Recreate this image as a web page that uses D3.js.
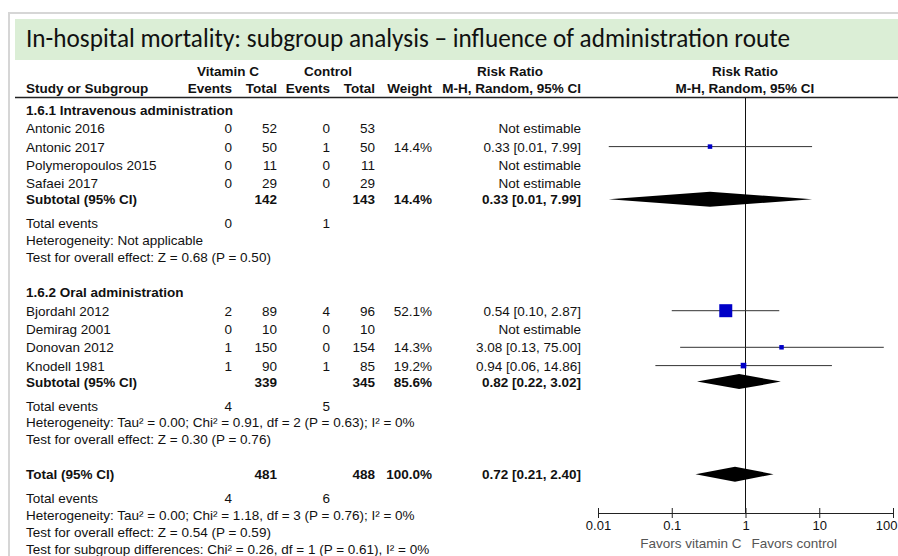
<!DOCTYPE html>
<html>
<head>
<meta charset="utf-8">
<script src="https://cdn.jsdelivr.net/npm/d3@7"></script>
<style>
  body { margin: 0; background: #fff; }
  svg { display: block; font-family: "Liberation Sans", Arial, sans-serif; }
</style>
</head>
<body>
<script>
var title = "In-hospital mortality: subgroup analysis \u2013 influence of administration route";

// studies
var studyNames = ["Antonic 2016", "Antonic 2017", "Polymeropoulos 2015", "Safaei 2017",
                  "Bjordahl 2012", "Demirag 2001", "Donovan 2012", "Knodell 1981"];
var studyGroup = [0, 0, 0, 0, 1, 1, 1, 1];
var vitEvents = [0, 0, 0, 0, 2, 0, 1, 1];
var vitTotal = [52, 50, 11, 29, 89, 10, 150, 90];
var ctlEvents = [0, 1, 0, 0, 4, 0, 0, 1];
var ctlTotal = [53, 50, 11, 29, 96, 10, 154, 85];
var weights = [null, 14.4, null, null, 52.1, null, 14.3, 19.2];
var rr = [null, 0.33, null, null, 0.54, null, 3.08, 0.94];
var rrLow = [null, 0.014, null, null, 0.10, null, 0.13, 0.06];
var rrHigh = [null, 7.99, null, null, 2.87, null, 75.00, 14.86];

// subgroups
var groupLabels = ["1.6.1 Intravenous administration", "1.6.2 Oral administration"];
var subVitTotal = [142, 339];
var subCtlTotal = [143, 345];
var subVitEvents = [0, 4];
var subCtlEvents = [1, 5];
var subWeight = [14.4, 85.6];
var subRR = [0.33, 0.82];
var subLow = [0.014, 0.22];
var subHigh = [7.99, 3.02];
var subHet = ["Heterogeneity: Not applicable",
              "Heterogeneity: Tau\u00b2 = 0.00; Chi\u00b2 = 0.91, df = 2 (P = 0.63); I\u00b2 = 0%"];
var subEffect = ["Test for overall effect: Z = 0.68 (P = 0.50)",
                 "Test for overall effect: Z = 0.30 (P = 0.76)"];

// overall
var totVitTotal = 481, totCtlTotal = 488, totWeight = 100.0;
var totRR = 0.72, totLow = 0.21, totHigh = 2.40;
var totVitEvents = 4, totCtlEvents = 6;
var totNotes = ["Heterogeneity: Tau\u00b2 = 0.00; Chi\u00b2 = 1.18, df = 3 (P = 0.76); I\u00b2 = 0%",
                "Test for overall effect: Z = 0.54 (P = 0.59)",
                "Test for subgroup differences: Chi\u00b2 = 0.26, df = 1 (P = 0.61), I\u00b2 = 0%"];

var axisTicks = [0.01, 0.1, 1, 10, 100];
var favorsLeft = "Favors vitamin C", favorsRight = "Favors control";

var width = 898, height = 556;
var svg = d3.select("body").append("svg").attr("width", width).attr("height", height);

// frame + title band
svg.append("rect").attr("x", 9).attr("y", 13).attr("width", width).attr("height", height)
  .attr("fill", "#fff").attr("stroke", "#d6d6d6").attr("stroke-width", 2);
svg.append("rect").attr("x", 15).attr("y", 19).attr("width", width - 15).attr("height", 41)
  .attr("fill", "#dbeed6");
svg.append("text").attr("x", 26).attr("y", 47)
  .attr("font-family", "Carlito, Lato, 'Open Sans', sans-serif").attr("font-size", 27)
  .attr("fill", "#111").attr("textLength", 764).attr("lengthAdjust", "spacingAndGlyphs")
  .text(title);

// column anchors (right aligned except name)
var col = { name: 26, vitEv: 232, vitTot: 277, ctlEv: 330, ctlTot: 375, wt: 432, rr: 581, plot: 745 };
var fs = 13.5;

function txt(x, y, s, anchor, bold, g) {
  return (g || svg).append("text").attr("x", x).attr("y", y)
    .attr("text-anchor", anchor || "start")
    .attr("font-size", fs).attr("font-weight", bold ? "bold" : "normal")
    .attr("fill", "#111").text(s);
}

// header
[["Vitamin C", 228], ["Control", 328], ["Risk Ratio", 510], ["Risk Ratio", col.plot]].forEach(function (h) {
  txt(h[1], 76, h[0], "middle", true);
});
txt(col.name, 93, "Study or Subgroup", "start", true);
txt(col.vitEv, 93, "Events", "end", true);
txt(col.vitTot, 93, "Total", "end", true);
txt(col.ctlEv, 93, "Events", "end", true);
txt(col.ctlTot, 93, "Total", "end", true);
txt(col.wt, 93, "Weight", "end", true);
txt(col.rr, 93, "M-H, Random, 95% CI", "end", true);
txt(col.plot, 93, "M-H, Random, 95% CI", "middle", true);
svg.append("line").attr("x1", 15).attr("x2", width).attr("y1", 97.5).attr("y2", 97.5)
  .attr("stroke", "#222").attr("stroke-width", 1.5);

// build rows
var rows = [];
groupLabels.forEach(function (lab, g) {
  rows.push({ type: "group", g: g });
  studyNames.forEach(function (n, i) { if (studyGroup[i] === g) rows.push({ type: "study", i: i }); });
  rows.push({ type: "sub", g: g });
  rows.push({ type: "events", vit: subVitEvents[g], ctl: subCtlEvents[g] });
  rows.push({ type: "note", text: subHet[g] });
  rows.push({ type: "note", text: subEffect[g] });
});
rows.push({ type: "total" });
rows.push({ type: "events", vit: totVitEvents, ctl: totCtlEvents });
totNotes.forEach(function (t) { rows.push({ type: "note", text: t }); });

var step = { group: 35.6, study: 18.3, sub: 16, events: 24, note: 16.8, total: 35 };
var yy = 110;
rows.forEach(function (r, k) {
  if (k > 0) yy += step[r.type];
  r.y = yy;
});

var f2 = d3.format(".2f"), f1 = d3.format(".1f");
function ciText(m, lo, hi) { return f2(m) + " [" + f2(lo) + ", " + f2(hi) + "]"; }

var x = d3.scaleLog().domain([0.01, 100]).range([598, 893]);
var sq = d3.scaleLinear().domain([14.3, 52.1]).range([4.5, 13]);
var axisY = 513;

// reference line at 1
svg.append("line").attr("x1", x(1)).attr("x2", x(1)).attr("y1", 98).attr("y2", axisY)
  .attr("stroke", "#111").attr("stroke-width", 1);

function diamond(m, lo, hi, y) {
  svg.append("path")
    .attr("d", "M" + x(lo) + "," + y + "L" + x(m) + "," + (y - 7.5) + "L" + x(hi) + "," + y +
      "L" + x(m) + "," + (y + 7.5) + "Z")
    .attr("fill", "#000");
}

rows.forEach(function (r) {
  var b = r.y + 5;
  if (r.type === "group") {
    txt(col.name, b, groupLabels[r.g], "start", true);
  } else if (r.type === "study") {
    var i = r.i;
    txt(col.name, b, studyNames[i]);
    txt(col.vitEv, b, vitEvents[i], "end");
    txt(col.vitTot, b, vitTotal[i], "end");
    txt(col.ctlEv, b, ctlEvents[i], "end");
    txt(col.ctlTot, b, ctlTotal[i], "end");
    if (weights[i] != null) {
      txt(col.wt, b, f1(weights[i]) + "%", "end");
      txt(col.rr, b, ciText(rr[i], rrLow[i], rrHigh[i]), "end");
      svg.append("line").attr("x1", x(rrLow[i])).attr("x2", x(rrHigh[i]))
        .attr("y1", r.y).attr("y2", r.y).attr("stroke", "#333").attr("stroke-width", 1);
      var s = sq(weights[i]);
      svg.append("rect").attr("x", x(rr[i]) - s / 2).attr("y", r.y - s / 2)
        .attr("width", s).attr("height", s).attr("fill", "#0000c8");
    } else {
      txt(col.rr, b, "Not estimable", "end");
    }
  } else if (r.type === "sub") {
    var g = r.g;
    txt(col.name, b, "Subtotal (95% CI)", "start", true);
    txt(col.vitTot, b, subVitTotal[g], "end", true);
    txt(col.ctlTot, b, subCtlTotal[g], "end", true);
    txt(col.wt, b, f1(subWeight[g]) + "%", "end", true);
    txt(col.rr, b, ciText(subRR[g], subLow[g], subHigh[g]), "end", true);
    diamond(subRR[g], subLow[g], subHigh[g], r.y);
  } else if (r.type === "total") {
    txt(col.name, b, "Total (95% CI)", "start", true);
    txt(col.vitTot, b, totVitTotal, "end", true);
    txt(col.ctlTot, b, totCtlTotal, "end", true);
    txt(col.wt, b, f1(totWeight) + "%", "end", true);
    txt(col.rr, b, ciText(totRR, totLow, totHigh), "end", true);
    diamond(totRR, totLow, totHigh, r.y);
  } else if (r.type === "events") {
    txt(col.name, b, "Total events");
    txt(col.vitEv, b, r.vit, "end");
    txt(col.ctlEv, b, r.ctl, "end");
  } else {
    txt(col.name, b, r.text);
  }
});

// axis
var ax = svg.append("g").attr("transform", "translate(0," + axisY + ")")
  .call(d3.axisBottom(x).tickValues(axisTicks).tickFormat(d3.format("~g"))
    .tickSizeOuter(0).tickSizeInner(5).tickPadding(3));
ax.select(".domain").attr("stroke", "#222");
ax.selectAll(".tick line").attr("y1", -5).attr("y2", 5).attr("stroke", "#222");
ax.selectAll(".tick text").attr("font-size", 13).attr("fill", "#111")
  .attr("font-family", "'Liberation Sans', Arial, sans-serif");
// keep the last label inside the picture
ax.selectAll(".tick text").filter(function (d) { return d === 100; })
  .attr("text-anchor", "end").attr("x", 4);

svg.append("text").attr("x", x(1) - 4).attr("y", 548).attr("text-anchor", "end")
  .attr("font-size", 13.5).attr("fill", "#555").text(favorsLeft);
svg.append("text").attr("x", x(1) + 6).attr("y", 548).attr("text-anchor", "start")
  .attr("font-size", 13.5).attr("fill", "#555").text(favorsRight);
</script>
</body>
</html>
